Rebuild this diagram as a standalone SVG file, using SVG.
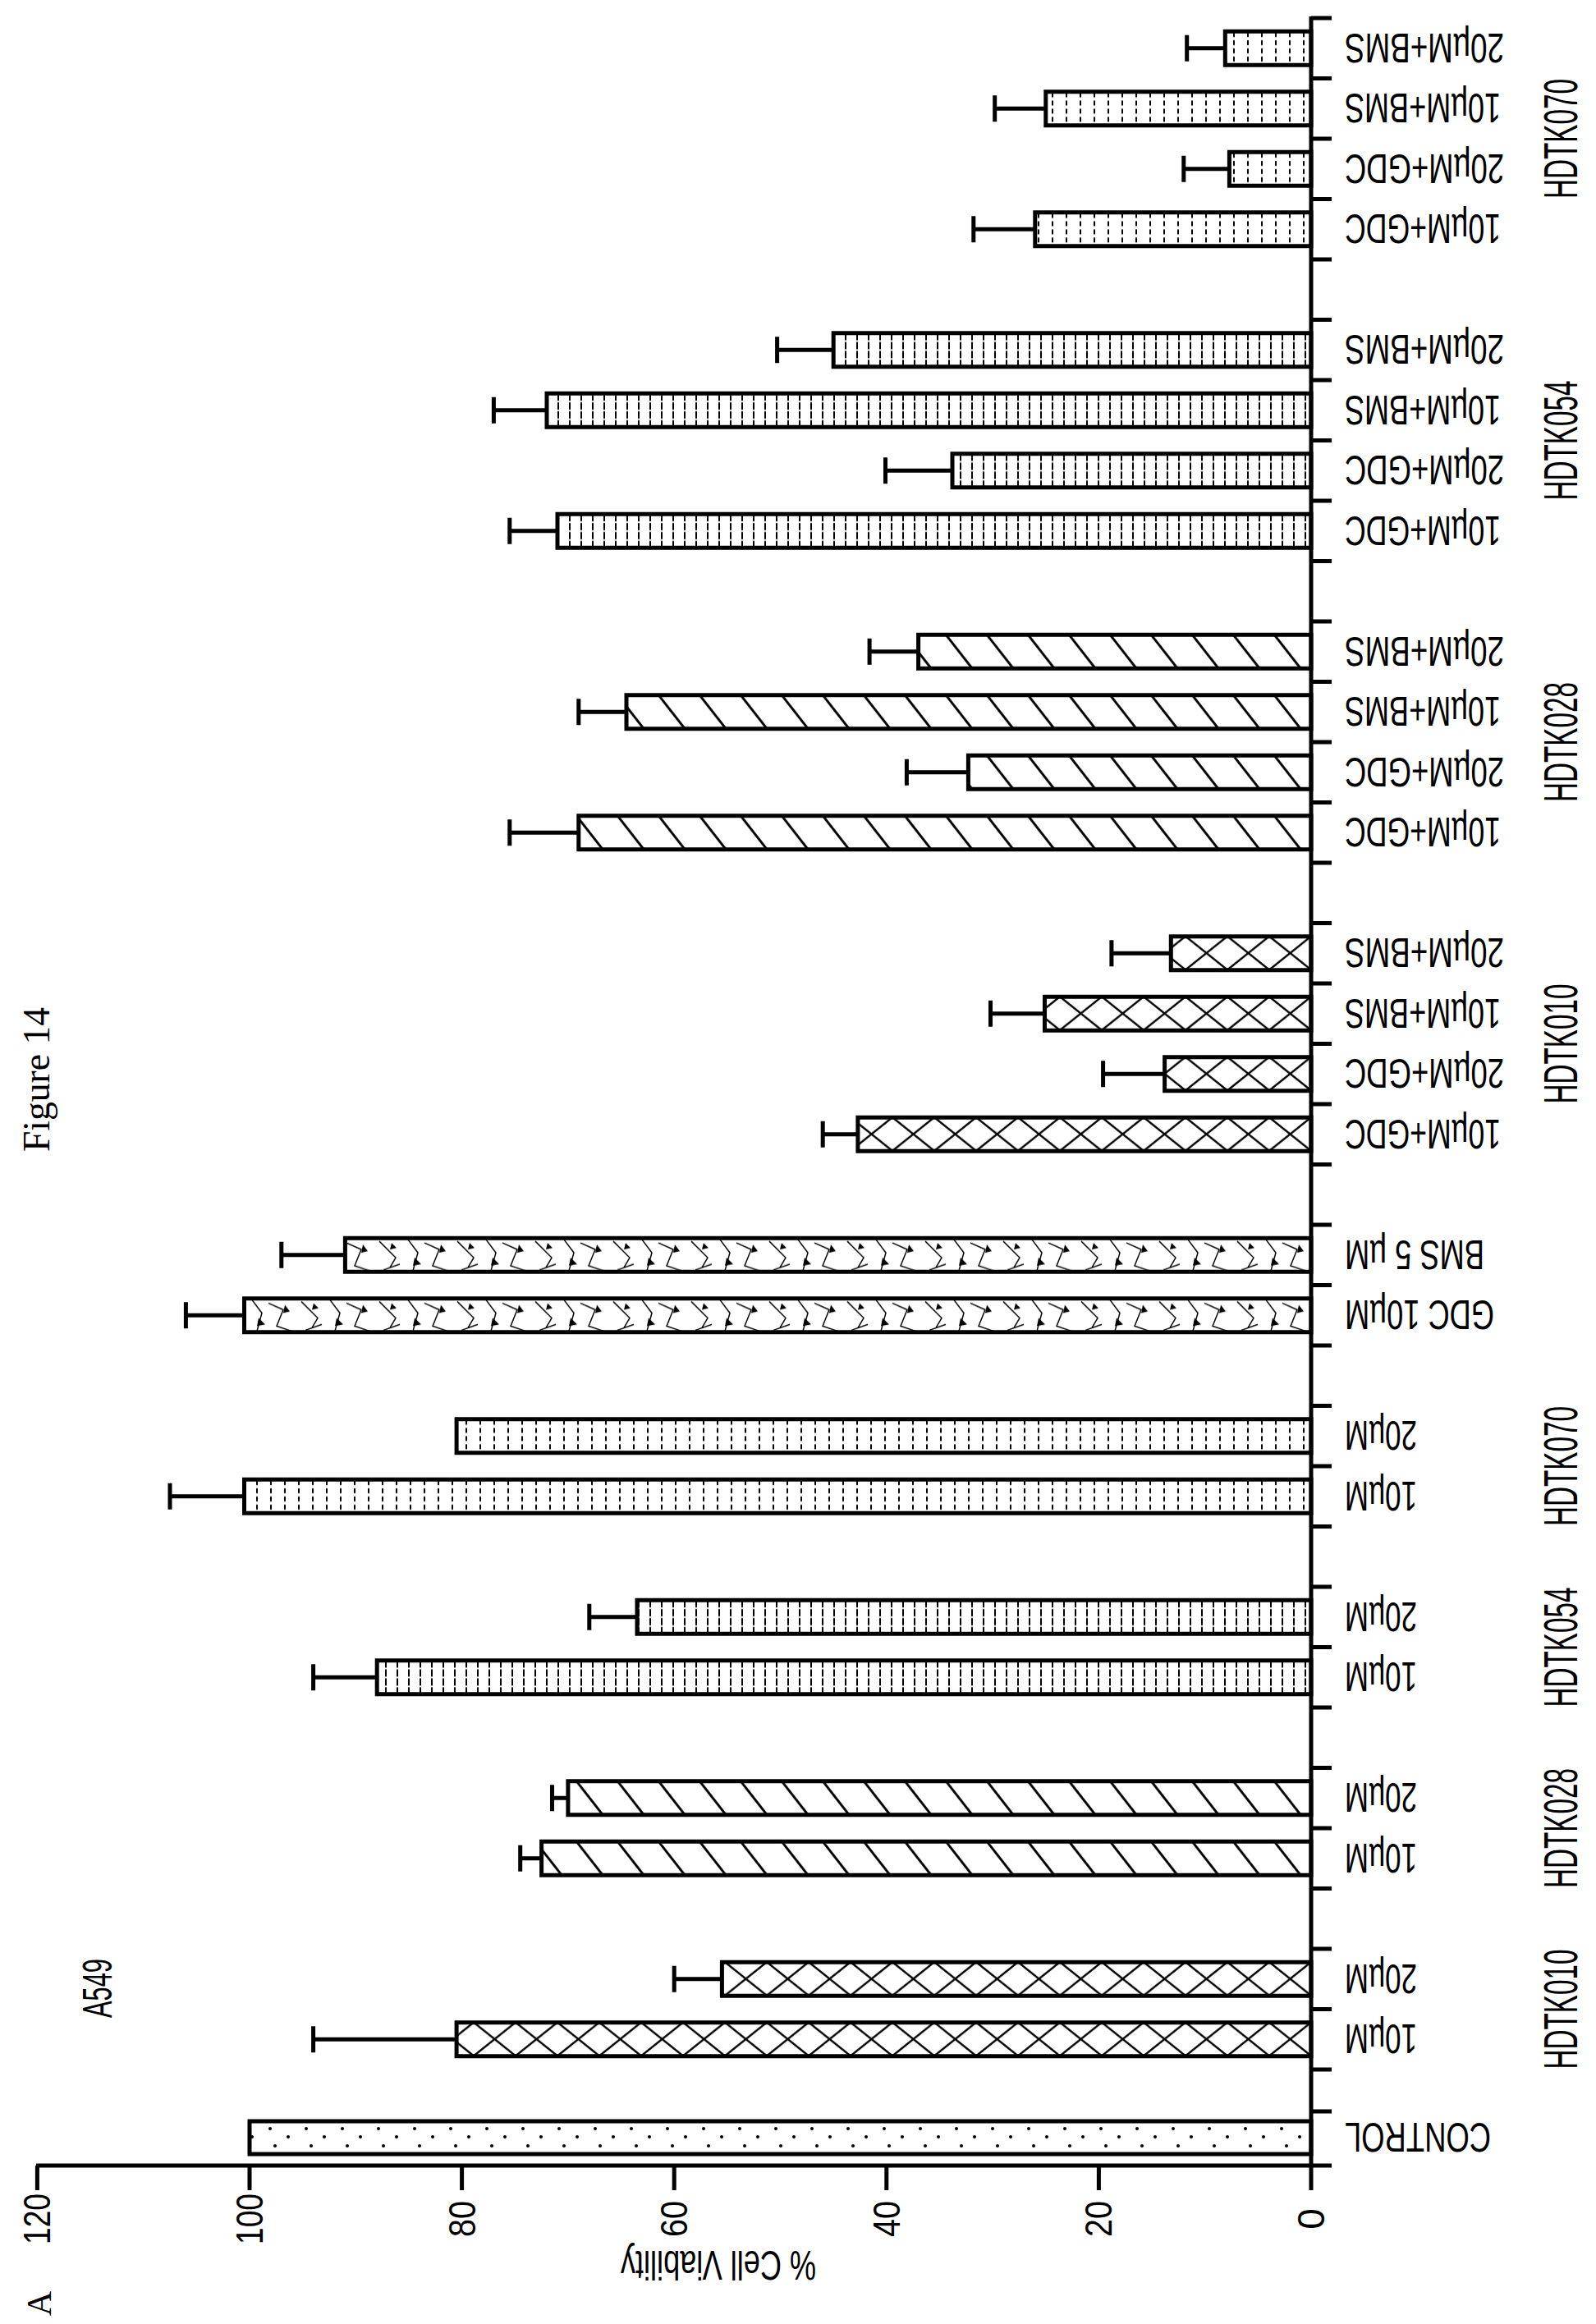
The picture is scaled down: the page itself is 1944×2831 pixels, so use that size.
<svg xmlns="http://www.w3.org/2000/svg" width="1944" height="2831" viewBox="0 0 1944 2831">
<style>
.bar{stroke:#000;stroke-width:5}
.ax{stroke:#000;stroke-width:5;fill:none}
.eb{stroke:#000;stroke-width:5;fill:none}
.cl{font-family:"Liberation Sans",Arial,sans-serif;font-size:50px;fill:#000}
.gl{font-family:"Liberation Sans",Arial,sans-serif;font-size:58px;fill:#000}
.tl{font-family:"Liberation Sans",Arial,sans-serif;font-size:46px;fill:#000}
</style>
<defs>
<pattern id="p010" patternUnits="userSpaceOnUse" x="1597" y="22" width="51" height="73.5">
<path d="M0 16 L51 57 M0 57 L51 16" stroke="#000" stroke-width="2.5"/>
</pattern>
<pattern id="p028" patternUnits="userSpaceOnUse" x="1597" y="22" width="50" height="73.5">
<path d="M5 16 L37 57" stroke="#000" stroke-width="3"/>
</pattern>
<pattern id="p054" patternUnits="userSpaceOnUse" x="1597" y="22" width="14" height="73.5">
<path d="M7 16 V57" stroke="#000" stroke-width="2" stroke-dasharray="9 2"/>
</pattern>
<pattern id="p070" patternUnits="userSpaceOnUse" x="1597" y="22" width="17" height="73.5">
<path d="M8 17 V57" stroke="#000" stroke-width="2" stroke-dasharray="6 4"/>
</pattern>
<pattern id="pdot" patternUnits="userSpaceOnUse" x="1597" y="2584" width="44" height="40">
<circle cx="8" cy="9" r="2" fill="#000"/><circle cx="30" cy="19" r="2" fill="#000"/><circle cx="14" cy="30" r="2" fill="#000"/>
</pattern>
<pattern id="pscr" patternUnits="userSpaceOnUse" x="1597" y="22" width="95" height="73.5">
<path d="M5 20 L25 40 L18 52 M40 18 L52 34 L46 56 M60 22 L78 30 L70 50 L88 56 M10 55 L30 48" stroke="#000" stroke-width="1.5" fill="none"/>
<path d="M48 40 L56 48 L46 50 Z M80 24 L86 32 L78 34 Z M20 22 L26 28 L18 30 Z" fill="#000"/>
</pattern>
</defs>
<rect width="1944" height="2831" fill="#fff"/>

<g id="axes">
<path class="ax" d="M1597 20 V2640 M44 2638 H1622"/>
<path class="ax" d="M1597 22 H1622 M1597 95.5 H1622 M1597 169 H1622 M1597 242.5 H1622 M1597 316 H1622 M1597 389.5 H1622 M1597 463 H1622 M1597 536.5 H1622 M1597 610 H1622 M1597 683.5 H1622 M1597 757 H1622 M1597 830.5 H1622 M1597 904 H1622 M1597 977.5 H1622 M1597 1051 H1622 M1597 1124.5 H1622 M1597 1198 H1622 M1597 1271.5 H1622 M1597 1345 H1622 M1597 1418.5 H1622 M1597 1492 H1622 M1597 1565.5 H1622 M1597 1639 H1622 M1597 1712.5 H1622 M1597 1786 H1622 M1597 1859.5 H1622 M1597 1933 H1622 M1597 2006.5 H1622 M1597 2080 H1622 M1597 2153.5 H1622 M1597 2227 H1622 M1597 2300.5 H1622 M1597 2374 H1622 M1597 2447.5 H1622 M1597 2521 H1622 M1597 2572 H1622"/>
<path class="ax" d="M1597 2638 V2668 M1338.4 2638 V2668 M1079.8 2638 V2668 M821.2 2638 V2668 M562.6 2638 V2668 M304 2638 V2668 M45.4 2638 V2668"/>
<g class="tl" text-anchor="middle">
<text transform="translate(1597,2703) rotate(-90)" y="16">0</text>
<text transform="translate(1338.4,2703) rotate(-90)" y="16" textLength="44" lengthAdjust="spacingAndGlyphs">20</text>
<text transform="translate(1079.8,2703) rotate(-90)" y="16" textLength="44" lengthAdjust="spacingAndGlyphs">40</text>
<text transform="translate(821.2,2703) rotate(-90)" y="16" textLength="44" lengthAdjust="spacingAndGlyphs">60</text>
<text transform="translate(562.6,2703) rotate(-90)" y="16" textLength="44" lengthAdjust="spacingAndGlyphs">80</text>
<text transform="translate(304,2703) rotate(-90)" y="16" textLength="62" lengthAdjust="spacingAndGlyphs">100</text>
<text transform="translate(45.4,2703) rotate(-90)" y="16" textLength="62" lengthAdjust="spacingAndGlyphs">120</text>
</g>
<text class="cl" transform="translate(875,2760) rotate(180)" y="18" text-anchor="middle" textLength="238" lengthAdjust="spacingAndGlyphs">% Cell Viability</text>
</g>

<g id="bars">
<g id="control"><rect class="bar" x="304" y="2584" width="1293" height="40" fill="url(#pdot)"/></g>
<g id="b33"><rect class="bar" x="556.1" y="2463.75" width="1040.9" height="41" fill="url(#p010)"/></g>
<g id="b32"><rect class="bar" x="879.4" y="2390.25" width="717.6" height="41" fill="url(#p010)"/></g>
<g id="b30"><rect class="bar" x="659.6" y="2243.25" width="937.4" height="41" fill="url(#p028)"/></g>
<g id="b29"><rect class="bar" x="691.9" y="2169.75" width="905.1" height="41" fill="url(#p028)"/></g>
<g id="b27"><rect class="bar" x="459.2" y="2022.75" width="1137.8" height="41" fill="url(#p054)"/></g>
<g id="b26"><rect class="bar" x="776" y="1949.25" width="821" height="41" fill="url(#p054)"/></g>
<g id="b24"><rect class="bar" x="297.5" y="1802.25" width="1299.5" height="41" fill="url(#p070)"/></g>
<g id="b23"><rect class="bar" x="556.1" y="1728.75" width="1040.9" height="41" fill="url(#p070)"/></g>
<g id="b21"><rect class="bar" x="297.5" y="1581.75" width="1299.5" height="41" fill="url(#pscr)"/></g>
<g id="b20"><rect class="bar" x="420.4" y="1508.25" width="1176.6" height="41" fill="url(#pscr)"/></g>
<g id="b18"><rect class="bar" x="1044.9" y="1361.25" width="552.1" height="41" fill="url(#p010)"/></g>
<g id="b17"><rect class="bar" x="1418.6" y="1287.75" width="178.4" height="41" fill="url(#p010)"/></g>
<g id="b16"><rect class="bar" x="1272.5" y="1214.25" width="324.5" height="41" fill="url(#p010)"/></g>
<g id="b15"><rect class="bar" x="1426.3" y="1140.75" width="170.7" height="41" fill="url(#p010)"/></g>
<g id="b13"><rect class="bar" x="704.8" y="993.75" width="892.2" height="41" fill="url(#p028)"/></g>
<g id="b12"><rect class="bar" x="1179.4" y="920.25" width="417.6" height="41" fill="url(#p028)"/></g>
<g id="b11"><rect class="bar" x="763" y="846.75" width="834" height="41" fill="url(#p028)"/></g>
<g id="b10"><rect class="bar" x="1118.6" y="773.25" width="478.4" height="41" fill="url(#p028)"/></g>
<g id="b8"><rect class="bar" x="679" y="626.25" width="918" height="41" fill="url(#p054)"/></g>
<g id="b7"><rect class="bar" x="1160" y="552.75" width="437" height="41" fill="url(#p054)"/></g>
<g id="b6"><rect class="bar" x="666" y="479.25" width="931" height="41" fill="url(#p054)"/></g>
<g id="b5"><rect class="bar" x="1015.2" y="405.75" width="581.8" height="41" fill="url(#p054)"/></g>
<g id="b3"><rect class="bar" x="1260.8" y="258.75" width="336.2" height="41" fill="url(#p070)"/></g>
<g id="b2"><rect class="bar" x="1497.4" y="185.25" width="99.6" height="41" fill="url(#p070)"/></g>
<g id="b1"><rect class="bar" x="1273.8" y="111.75" width="323.2" height="41" fill="url(#p070)"/></g>
<g id="b0"><rect class="bar" x="1492.3" y="38.25" width="104.7" height="41" fill="url(#p070)"/></g>
</g>

<g id="errorbars">
<path class="eb" d="M556.1 2484.25 H381.6 M381.6 2468.25 V2500.25
M879.4 2410.75 H821.2 M821.2 2394.75 V2426.75
M659.6 2263.75 H633.7 M633.7 2247.75 V2279.75
M691.9 2190.25 H672.5 M672.5 2174.25 V2206.25
M459.2 2043.25 H381.6 M381.6 2027.25 V2059.25
M776 1969.75 H717.8 M717.8 1953.75 V1985.75
M297.5 1822.75 H207 M207 1806.75 V1838.75
M297.5 1602.25 H226.4 M226.4 1586.25 V1618.25
M420.4 1528.75 H342.8 M342.8 1512.75 V1544.75
M1044.9 1381.75 H1002.2 M1002.2 1365.75 V1397.75
M1418.6 1308.25 H1343.6 M1343.6 1292.25 V1324.25
M1272.5 1234.75 H1206.5 M1206.5 1218.75 V1250.75
M1426.3 1161.25 H1353.9 M1353.9 1145.25 V1177.25
M704.8 1014.25 H620.8 M620.8 998.25 V1030.25
M1179.4 940.75 H1104.4 M1104.4 924.75 V956.75
M763 867.25 H704.8 M704.8 851.25 V883.25
M1118.6 793.75 H1059.1 M1059.1 777.75 V809.75
M679 646.75 H620.8 M620.8 630.75 V662.75
M1160 573.25 H1078.5 M1078.5 557.25 V589.25
M666 499.75 H601.4 M601.4 483.75 V515.75
M1015.2 426.25 H946.6 M946.6 410.25 V442.25
M1260.8 279.25 H1185.8 M1185.8 263.25 V295.25
M1497.4 205.75 H1441.8 M1441.8 189.75 V221.75
M1273.8 132.25 H1211.7 M1211.7 116.25 V148.25
M1492.3 58.75 H1445.7 M1445.7 42.75 V74.75"/>
</g>

<g id="labels" class="cl" text-anchor="end">
<text transform="translate(1638,2604) rotate(180)" y="18" textLength="178" lengthAdjust="spacingAndGlyphs">CONTROL</text>
<text transform="translate(1638,2484.25) rotate(180)" y="18" textLength="88" lengthAdjust="spacingAndGlyphs">10µM</text>
<text transform="translate(1638,2410.75) rotate(180)" y="18" textLength="88" lengthAdjust="spacingAndGlyphs">20µM</text>
<text transform="translate(1638,2263.75) rotate(180)" y="18" textLength="88" lengthAdjust="spacingAndGlyphs">10µM</text>
<text transform="translate(1638,2190.25) rotate(180)" y="18" textLength="88" lengthAdjust="spacingAndGlyphs">20µM</text>
<text transform="translate(1638,2043.25) rotate(180)" y="18" textLength="88" lengthAdjust="spacingAndGlyphs">10µM</text>
<text transform="translate(1638,1969.75) rotate(180)" y="18" textLength="88" lengthAdjust="spacingAndGlyphs">20µM</text>
<text transform="translate(1638,1822.75) rotate(180)" y="18" textLength="88" lengthAdjust="spacingAndGlyphs">10µM</text>
<text transform="translate(1638,1749.25) rotate(180)" y="18" textLength="88" lengthAdjust="spacingAndGlyphs">20µM</text>
<text transform="translate(1638,1602.25) rotate(180)" y="18" textLength="182" lengthAdjust="spacingAndGlyphs">GDC 10µM</text>
<text transform="translate(1638,1528.75) rotate(180)" y="18" textLength="170" lengthAdjust="spacingAndGlyphs">BMS 5 µM</text>
<text transform="translate(1638,1381.75) rotate(180)" y="18" textLength="190" lengthAdjust="spacingAndGlyphs">10µM+GDC</text>
<text transform="translate(1638,1308.25) rotate(180)" y="18" textLength="194" lengthAdjust="spacingAndGlyphs">20µM+GDC</text>
<text transform="translate(1638,1234.75) rotate(180)" y="18" textLength="190" lengthAdjust="spacingAndGlyphs">10µM+BMS</text>
<text transform="translate(1638,1161.25) rotate(180)" y="18" textLength="194" lengthAdjust="spacingAndGlyphs">20µM+BMS</text>
<text transform="translate(1638,1014.25) rotate(180)" y="18" textLength="190" lengthAdjust="spacingAndGlyphs">10µM+GDC</text>
<text transform="translate(1638,940.75) rotate(180)" y="18" textLength="194" lengthAdjust="spacingAndGlyphs">20µM+GDC</text>
<text transform="translate(1638,867.25) rotate(180)" y="18" textLength="190" lengthAdjust="spacingAndGlyphs">10µM+BMS</text>
<text transform="translate(1638,793.75) rotate(180)" y="18" textLength="194" lengthAdjust="spacingAndGlyphs">20µM+BMS</text>
<text transform="translate(1638,646.75) rotate(180)" y="18" textLength="190" lengthAdjust="spacingAndGlyphs">10µM+GDC</text>
<text transform="translate(1638,573.25) rotate(180)" y="18" textLength="194" lengthAdjust="spacingAndGlyphs">20µM+GDC</text>
<text transform="translate(1638,499.75) rotate(180)" y="18" textLength="190" lengthAdjust="spacingAndGlyphs">10µM+BMS</text>
<text transform="translate(1638,426.25) rotate(180)" y="18" textLength="194" lengthAdjust="spacingAndGlyphs">20µM+BMS</text>
<text transform="translate(1638,279.25) rotate(180)" y="18" textLength="190" lengthAdjust="spacingAndGlyphs">10µM+GDC</text>
<text transform="translate(1638,205.75) rotate(180)" y="18" textLength="194" lengthAdjust="spacingAndGlyphs">20µM+GDC</text>
<text transform="translate(1638,132.25) rotate(180)" y="18" textLength="190" lengthAdjust="spacingAndGlyphs">10µM+BMS</text>
<text transform="translate(1638,58.75) rotate(180)" y="18" textLength="194" lengthAdjust="spacingAndGlyphs">20µM+BMS</text>
</g>

<g id="groups" class="gl" text-anchor="middle">
<text transform="translate(1900,2447.5) rotate(-90)" y="21" textLength="146" lengthAdjust="spacingAndGlyphs">HDTK010</text>
<text transform="translate(1900,2227) rotate(-90)" y="21" textLength="146" lengthAdjust="spacingAndGlyphs">HDTK028</text>
<text transform="translate(1900,2006.5) rotate(-90)" y="21" textLength="146" lengthAdjust="spacingAndGlyphs">HDTK054</text>
<text transform="translate(1900,1786) rotate(-90)" y="21" textLength="146" lengthAdjust="spacingAndGlyphs">HDTK070</text>
<text transform="translate(1900,1271.5) rotate(-90)" y="21" textLength="146" lengthAdjust="spacingAndGlyphs">HDTK010</text>
<text transform="translate(1900,904) rotate(-90)" y="21" textLength="146" lengthAdjust="spacingAndGlyphs">HDTK028</text>
<text transform="translate(1900,536.5) rotate(-90)" y="21" textLength="146" lengthAdjust="spacingAndGlyphs">HDTK054</text>
<text transform="translate(1900,169) rotate(-90)" y="21" textLength="146" lengthAdjust="spacingAndGlyphs">HDTK070</text>
</g>

<g id="titles">
<text transform="translate(46,1315) rotate(-90)" y="14" text-anchor="middle" textLength="176" lengthAdjust="spacingAndGlyphs" style="font-family:'Liberation Serif','Times New Roman',serif;font-size:46px">Figure 14</text>
<text class="gl" transform="translate(118,2422) rotate(-90)" y="18" text-anchor="middle" textLength="72" lengthAdjust="spacingAndGlyphs" style="font-size:50px">A549</text>
<text transform="translate(48,2806) rotate(-90)" y="14" text-anchor="middle" style="font-family:'Liberation Serif','Times New Roman',serif;font-size:42px">A</text>
</g>
</svg>
